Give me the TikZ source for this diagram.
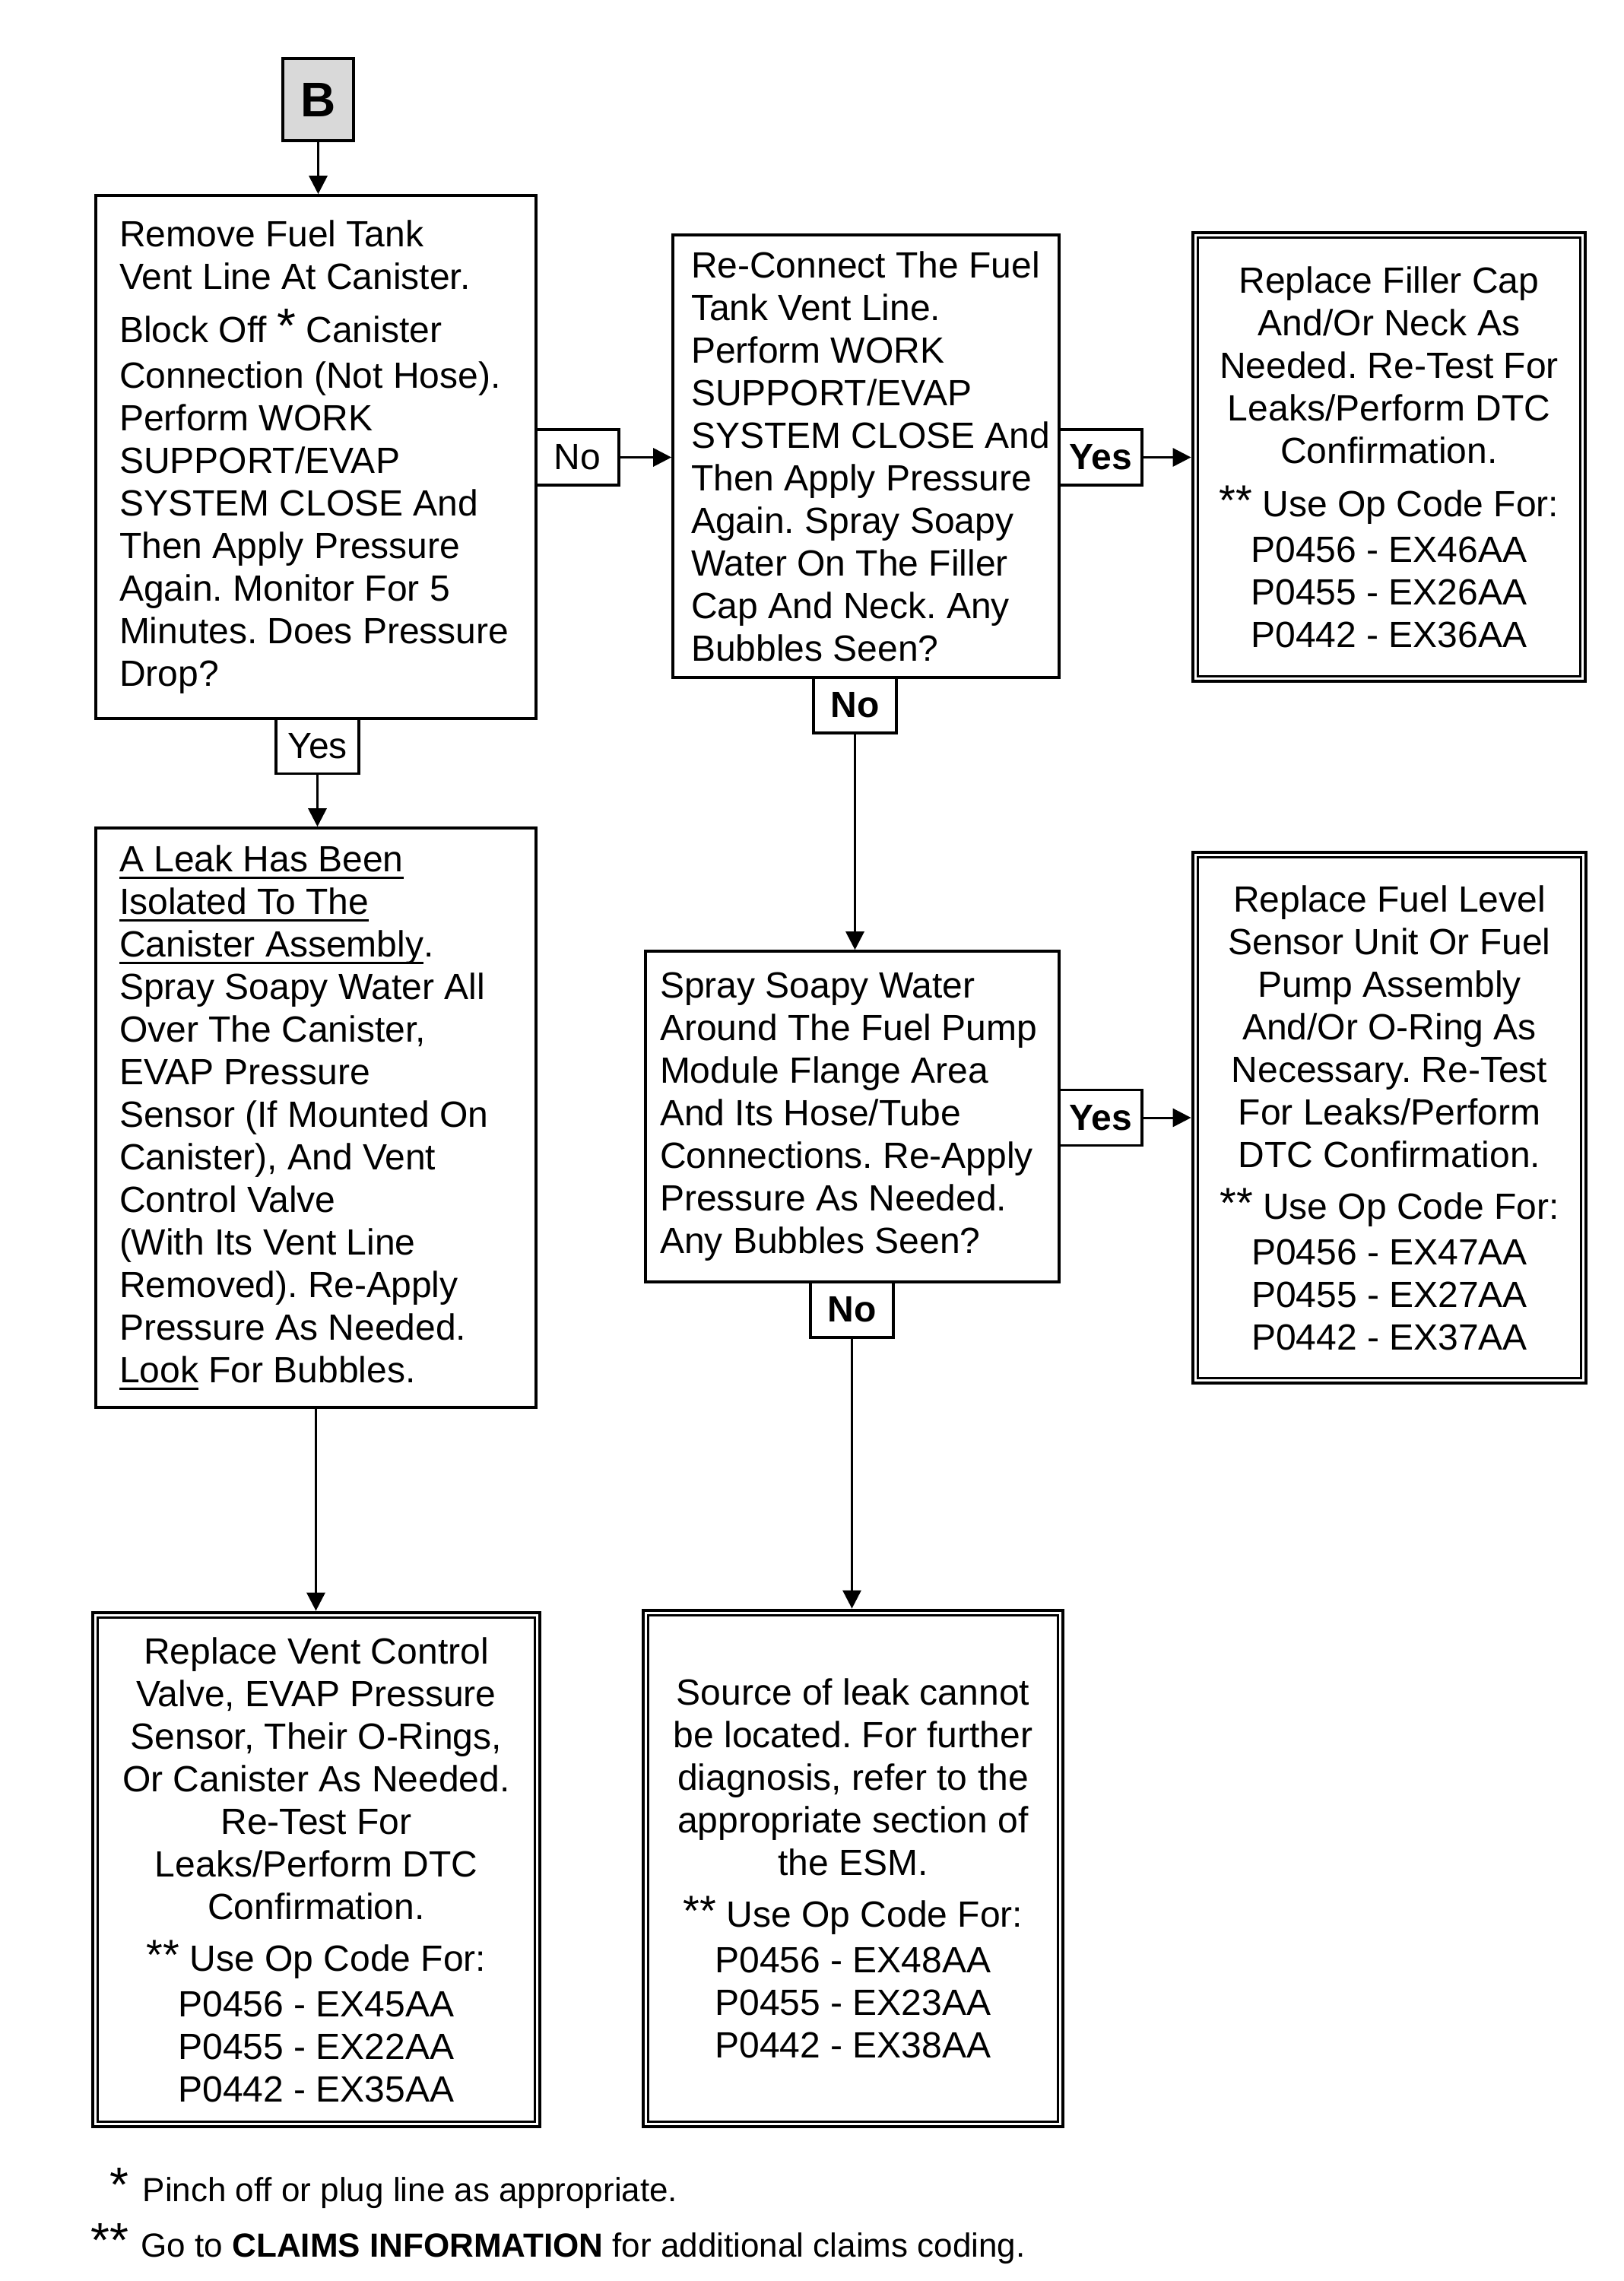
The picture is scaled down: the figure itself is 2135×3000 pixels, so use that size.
\documentclass[tikz,border=0pt]{standalone}
\usepackage{fontspec}
\setmainfont{Liberation Sans}
\usetikzlibrary{arrows.meta}
\frenchspacing
\newcommand\myul[1]{\setbox0\hbox{#1}\rlap{\rule[-2.3pt]{\wd0}{0.75pt}}\box0\relax}
\newcommand\stars{\raisebox{0.5pt}{\fontsize{14pt}{14pt}\selectfont **}}
\newcommand\innerbox[1]{\draw[line width=0.8pt] ([xshift=2.25pt,yshift=-2.25pt]#1.north west) rectangle ([xshift=-2.25pt,yshift=2.25pt]#1.south east);}
\begin{document}
\begin{tikzpicture}[x=0.25pt,y=-0.25pt,
  every node/.style={font=\fontsize{12pt}{14pt}\selectfont},
  box/.style={draw, line width=0.9pt, inner sep=0pt},
  dbox/.style={draw, line width=1.2pt, inner sep=0pt, align=center},
  lbl/.style={draw, line width=0.8pt, inner sep=0pt, minimum width=27.25pt, minimum height=18.25pt},
  blbl/.style={lbl, font=\fontsize{12pt}{14pt}\selectfont\bfseries},
  txt/.style={align=left, inner sep=0pt, anchor=west},
  conn/.style={line width=0.75pt, -{Triangle[length=6pt,width=6pt]}},
  foot/.style={anchor=base west, inner sep=0pt, font=\fontsize{11pt}{13pt}\selectfont},
]
\useasboundingbox (0,0) rectangle (2135,3000);

% start
\node[box, fill=gray!30, minimum width=23.25pt, minimum height=27pt,
      font=\fontsize{16pt}{18pt}\selectfont\bfseries] (B) at (418.5,131) {B};

% box 1
\node[box, minimum width=144.75pt, minimum height=172pt] (b1) at (415.5,601) {};
\node[txt] (t1) at ([xshift=8pt]b1.west) {Remove Fuel Tank\\
Vent Line At Canister.\\[3.5pt]
Block Off {\fontsize{16pt}{14pt}\selectfont *} Canister\\[1pt]
Connection (Not Hose).\\
Perform WORK\\
SUPPORT/EVAP\\
SYSTEM CLOSE And\\
Then Apply Pressure\\
Again. Monitor For 5\\
Minutes. Does Pressure\\
Drop?};

% box 2
\node[box, minimum width=127pt, minimum height=145.5pt] (b2) at (1139,600) {};
\node[txt] (t2) at ([xshift=6.25pt]b2.west) {Re-Connect The Fuel\\
Tank Vent Line.\\
Perform WORK\\
SUPPORT/EVAP\\
SYSTEM CLOSE And\\
Then Apply Pressure\\
Again. Spray Soapy\\
Water On The Filler\\
Cap And Neck. Any\\
Bubbles Seen?};

% box 3
\node[dbox, minimum width=129pt, minimum height=147.5pt] (b3) at (1827,601) {Replace Filler Cap\\
And/Or Neck As\\
Needed. Re-Test For\\
Leaks/Perform DTC\\
Confirmation.\\[3.5pt]
\stars\ Use Op Code For:\\[1pt]
P0456 - EX46AA\\
P0455 - EX26AA\\
P0442 - EX36AA};
\innerbox{b3}

% box 4
\node[box, minimum width=144.75pt, minimum height=190.5pt] (b4) at (415.5,1470) {};
\node[txt] (t4) at ([xshift=8pt]b4.west) {\myul{A Leak Has Been}\\
\myul{Isolated To The}\\
\myul{Canister Assembly}.\\
Spray Soapy Water All\\
Over The Canister,\\
EVAP Pressure\\
Sensor (If Mounted On\\
Canister), And Vent\\
Control Valve\\
(With Its Vent Line\\
Removed). Re-Apply\\
Pressure As Needed.\\
\myul{Look} For Bubbles.};

% box 5
\node[box, minimum width=136pt, minimum height=108.75pt] (b5) at (1121,1468.5) {};
\node[txt] (t5) at ([xshift=5pt]b5.west) {Spray Soapy Water\\
Around The Fuel Pump\\
Module Flange Area\\
And Its Hose/Tube\\
Connections. Re-Apply\\
Pressure As Needed.\\
Any Bubbles Seen?};

% box 6
\node[dbox, minimum width=129.25pt, minimum height=174.5pt] (b6) at (1827.5,1470) {Replace Fuel Level\\
Sensor Unit Or Fuel\\
Pump Assembly\\
And/Or O-Ring As\\
Necessary. Re-Test\\
For Leaks/Perform\\
DTC Confirmation.\\[3pt]
\stars\ Use Op Code For:\\[1pt]
P0456 - EX47AA\\
P0455 - EX27AA\\
P0442 - EX37AA};
\innerbox{b6}

% box 7
\node[dbox, minimum width=147pt, minimum height=169pt] (b7) at (416,2459) {Replace Vent Control\\
Valve, EVAP Pressure\\
Sensor, Their O-Rings,\\
Or Canister As Needed.\\
Re-Test For\\
Leaks/Perform DTC\\
Confirmation.\\[3pt]
\stars\ Use Op Code For:\\[1pt]
P0456 - EX45AA\\
P0455 - EX22AA\\
P0442 - EX35AA};
\innerbox{b7}

% box 8
\node[dbox, minimum width=138pt, minimum height=169.75pt] (b8) at (1122,2457.5) {Source of leak cannot\\
be located. For further\\
diagnosis, refer to the\\
appropriate section of\\
the ESM.\\[3pt]
\stars\ Use Op Code For:\\[1pt]
P0456 - EX48AA\\
P0455 - EX23AA\\
P0442 - EX38AA};
\innerbox{b8}

% labels
\node[lbl] (n1) at (759.5,601.5) {No};
\node[lbl] (y1) at (417.5,981) {Yes};
\node[blbl] (y2) at (1447.5,601.5) {Yes};
\node[blbl] (n2) at (1124.5,927.5) {No};
\node[blbl] (y3) at (1447.5,1470) {Yes};
\node[blbl] (n3) at (1120.5,1722.5) {No};

% connectors
\draw[conn] (B.south) -- (B.south |- b1.north);
\draw[conn] (n1.east) -- (n1.east -| b2.west);
\draw[conn] (y1.south) -- (y1.south |- b4.north);
\draw[conn] (y2.east) -- (y2.east -| b3.west);
\draw[conn] (n2.south) -- (n2.south |- b5.north);
\draw[conn] (y3.east) -- (y3.east -| b6.west);
\draw[conn] (n3.south) -- (n3.south |- b8.north);
\draw[conn] (b4.south) -- (b4.south |- b7.north);

% footnotes
\node[foot] (f1) at (144,2895)
  {{\fontsize{16pt}{13pt}\selectfont *}\hspace{4.5pt}Pinch off or plug line as appropriate.};
\node[foot] (f2) at (119,2968)
  {{\fontsize{16pt}{13pt}\selectfont **}\hspace{4pt}Go to \textbf{CLAIMS INFORMATION} for additional claims coding.};
\end{tikzpicture}
\end{document}
